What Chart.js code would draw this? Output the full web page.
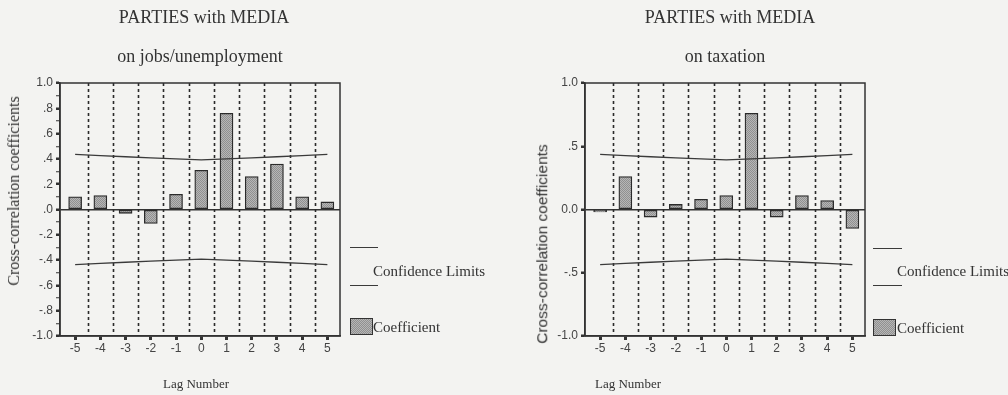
<!DOCTYPE html>
<html>
<head>
<meta charset="utf-8">
<script src="https://cdn.jsdelivr.net/npm/chart.js@4/dist/chart.umd.min.js"></script>
<style>
  html, body { margin: 0; padding: 0; background: #f3f3f1; }
  #wrap { position: relative; width: 1008px; height: 395px; overflow: hidden; }
  canvas { position: absolute; top: 0; }
  .t { position: absolute; white-space: nowrap; color: #333; line-height: 1; transform: translate(-50%, -50%); }
  .serif { font-family: "Liberation Serif", "Times New Roman", serif; }
  .sans { font-family: "Liberation Sans", Arial, sans-serif; }
  .rot { transform: translate(-50%, -50%) rotate(-90deg); }
  .lg { position: absolute; white-space: nowrap; color: #333; line-height: 1; transform: translateY(-50%);
        font-family: "Liberation Serif", "Times New Roman", serif; font-size: 15px; }
  .ln { position: absolute; height: 0; border-top: 1.3px solid #3a3a3a; }
  .sw { position: absolute; box-sizing: border-box; border: 1.3px solid #333;
        background: repeating-conic-gradient(#909090 0 25%, #b6b6b6 0 50%) 0 0 / 2px 2px; }
</style>
</head>
<body>
<div id="wrap">
  <canvas id="cJobs" width="504" height="395" style="left:0"></canvas>
  <canvas id="cTax" width="504" height="395" style="left:504px"></canvas>

  <div class="t serif" style="left:204px;top:17px;font-size:18px">PARTIES with MEDIA</div>
  <div class="t serif" style="left:200px;top:56px;font-size:18px">on jobs/unemployment</div>
  <div class="t serif" style="left:730px;top:17px;font-size:18px">PARTIES with MEDIA</div>
  <div class="t serif" style="left:725px;top:56px;font-size:18px">on taxation</div>

  <div class="t serif rot" style="left:14px;top:191px;font-size:16px">Cross-correlation coefficients</div>
  <div class="t sans rot" style="left:542px;top:244px;font-size:15.5px">Cross-correlation coefficients</div>

  <div class="t serif" style="left:196px;top:383px;font-size:13px">Lag Number</div>
  <div class="t serif" style="left:628px;top:383px;font-size:13px">Lag Number</div>

  <div class="ln" style="left:350px;top:247px;width:28px"></div>
  <div class="ln" style="left:350px;top:285px;width:28px"></div>
  <div class="lg" style="left:373px;top:271px">Confidence Limits</div>
  <div class="sw" style="left:350px;top:318px;width:23px;height:17px"></div>
  <div class="lg" style="left:373px;top:327px">Coefficient</div>

  <div class="ln" style="left:873px;top:248px;width:29px"></div>
  <div class="ln" style="left:873px;top:285px;width:29px"></div>
  <div class="lg" style="left:897px;top:271px">Confidence Limits</div>
  <div class="sw" style="left:873px;top:319px;width:23px;height:17px"></div>
  <div class="lg" style="left:897px;top:328px">Coefficient</div>
</div>

<script>
// Lags and cross-correlation coefficients
const lags = [-5, -4, -3, -2, -1, 0, 1, 2, 3, 4, 5];

const jobsCoef  = [0.10, 0.11, -0.03, -0.11, 0.12, 0.31, 0.76, 0.26, 0.36, 0.10, 0.06];
const jobsUpper = [0.436, 0.426, 0.417, 0.408, 0.400, 0.392, 0.400, 0.408, 0.417, 0.426, 0.436];
const jobsLower = [-0.436, -0.426, -0.417, -0.408, -0.400, -0.392, -0.400, -0.408, -0.417, -0.426, -0.436];

const taxCoef  = [-0.02, 0.26, -0.06, 0.04, 0.08, 0.11, 0.76, -0.06, 0.11, 0.07, -0.15];
const taxUpper = [0.436, 0.426, 0.417, 0.408, 0.400, 0.392, 0.400, 0.408, 0.417, 0.426, 0.436];
const taxLower = [-0.436, -0.426, -0.417, -0.408, -0.400, -0.392, -0.400, -0.408, -0.417, -0.426, -0.436];

// y-axis ticks (empty text = minor tick)
const jobsTicks = [-1.0, -0.9, -0.8, -0.7, -0.6, -0.5, -0.4, -0.3, -0.2, -0.1, 0.0,
                   0.1, 0.2, 0.3, 0.4, 0.5, 0.6, 0.7, 0.8, 0.9, 1.0];
const jobsTickText = ['-1.0', '', '-.8', '', '-.6', '', '-.4', '', '-.2', '', '.0',
                      '', '.2', '', '.4', '', '.6', '', '.8', '', '1.0'];
const taxTicks = [-1.0, -0.5, 0.0, 0.5, 1.0];
const taxTickText = ['-1.0', '-.5', '0.0', '.5', '1.0'];

const INK = '#333';
const tickFont = { family: '"Liberation Sans", Arial, sans-serif', size: 12 };

function stipple(ctx) {
  const c = document.createElement('canvas');
  c.width = c.height = 2;
  const g = c.getContext('2d');
  g.fillStyle = '#b6b6b6'; g.fillRect(0, 0, 2, 2);
  g.fillStyle = '#909090'; g.fillRect(0, 0, 1, 1); g.fillRect(1, 1, 1, 1);
  return ctx.createPattern(c, 'repeat');
}

// dotted separators between lags and a box round the plot area
const framePlugin = {
  id: 'frame',
  beforeDatasetsDraw(chart) {
    const { ctx, chartArea: a, scales: { x } } = chart;
    ctx.save();
    ctx.strokeStyle = '#2a2a2a';
    ctx.lineWidth = 1.6;
    ctx.setLineDash([3, 3]);
    for (let i = 0; i < lags.length - 1; i++) {
      const px = Math.round(x.getPixelForValue((lags[i] + lags[i + 1]) / 2)) + 0.5;
      ctx.beginPath();
      ctx.moveTo(px, a.top);
      ctx.lineTo(px, a.bottom);
      ctx.stroke();
    }
    ctx.restore();
  },
  afterDraw(chart) {
    const { ctx, chartArea: a } = chart;
    ctx.save();
    ctx.strokeStyle = INK;
    ctx.lineWidth = 1.5;
    ctx.strokeRect(a.left, a.top, a.right - a.left, a.bottom - a.top);
    ctx.restore();
  }
};

function makeChart(id, coef, upper, lower, ticks, tickText, axisWidth) {
  const ctx = document.getElementById(id).getContext('2d');
  const limitStyle = { type: 'line', borderColor: '#3a3a3a', borderWidth: 1.3, pointRadius: 0, fill: false, order: 0 };
  return new Chart(ctx, {
    type: 'bar',
    data: {
      datasets: [
        Object.assign({ label: 'Upper', data: lags.map((x, i) => ({ x, y: upper[i] })) }, limitStyle),
        Object.assign({ label: 'Lower', data: lags.map((x, i) => ({ x, y: lower[i] })) }, limitStyle),
        {
          type: 'bar', label: 'Coefficient',
          data: lags.map((x, i) => ({ x, y: coef[i] })),
          backgroundColor: stipple(ctx), borderColor: '#2a2a2a', borderWidth: 1.3,
          borderSkipped: false, barThickness: 13, order: 1
        }
      ]
    },
    options: {
      responsive: false,
      animation: false,
      events: [],
      layout: { padding: { left: 0, top: 83, right: 504 - axisWidth - 280, bottom: 0 } },
      plugins: { legend: { display: false }, tooltip: { enabled: false } },
      scales: {
        x: {
          type: 'linear', min: -5.6, max: 5.5, offset: false,
          afterBuildTicks: s => { s.ticks = lags.map(v => ({ value: v })); },
          afterFit: s => { s.height = 59; },
          ticks: { callback: v => String(v), font: tickFont, color: '#444', padding: 1, maxRotation: 0, autoSkip: false },
          grid: { drawOnChartArea: false, offset: false, tickLength: 4, tickWidth: 3, tickColor: INK },
          border: { color: INK, width: 1.5 }
        },
        y: {
          type: 'linear', min: -1, max: 1,
          afterBuildTicks: s => { s.ticks = ticks.map(v => ({ value: v })); },
          afterFit: s => { s.width = axisWidth; },
          ticks: { callback: (v, i) => tickText[i], font: tickFont, color: '#444', padding: 3, autoSkip: false },
          grid: {
            color: c => (c.tick && c.tick.value === 0) ? INK : 'rgba(0,0,0,0)',
            lineWidth: 1.5,
            tickColor: INK, tickLength: 4,
            tickWidth: c => (tickText[c.index] ? 2.5 : 1)
          },
          border: { color: INK, width: 1.5 }
        }
      }
    },
    plugins: [framePlugin]
  });
}

makeChart('cJobs', jobsCoef, jobsUpper, jobsLower, jobsTicks, jobsTickText, 60);
makeChart('cTax', taxCoef, taxUpper, taxLower, taxTicks, taxTickText, 81);
</script>
</body>
</html>
